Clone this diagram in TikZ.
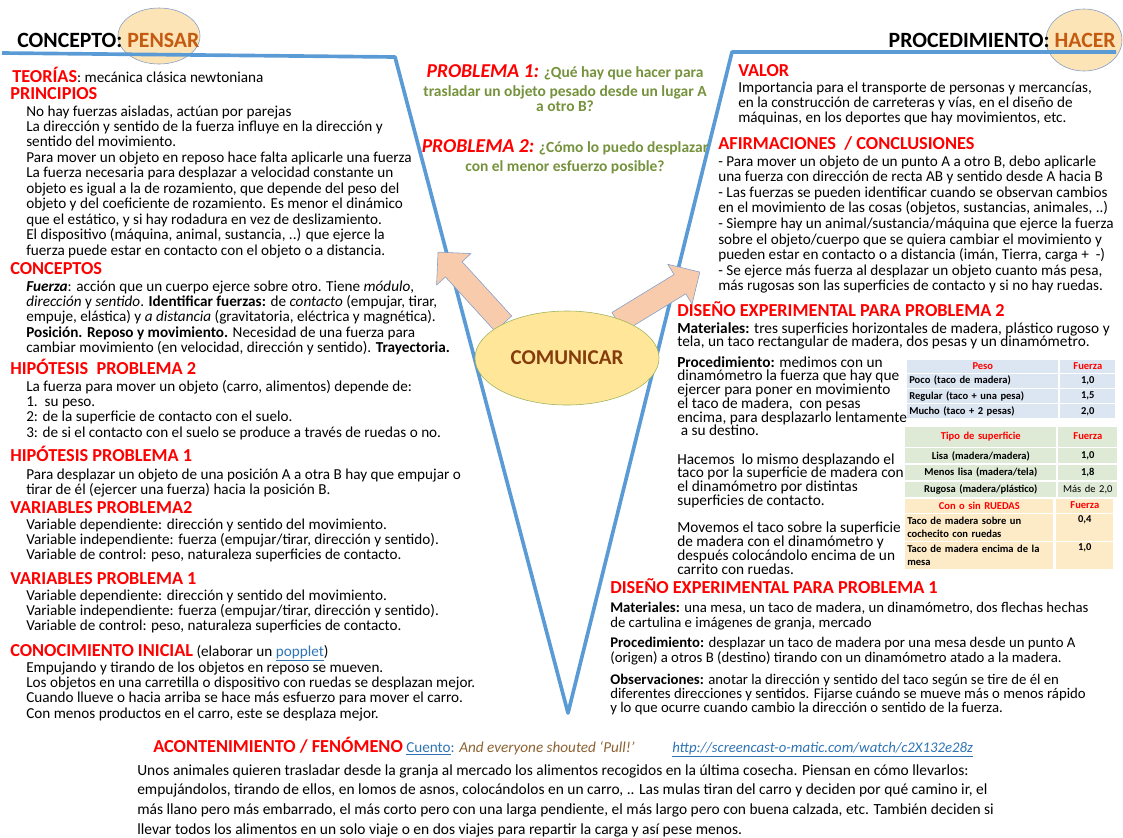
\documentclass[tikz,border=0pt]{standalone}
\usepackage{fontspec}
\setmainfont{Carlito}
\usetikzlibrary{shapes.geometric,shapes.arrows,calc}

\definecolor{vblue}{HTML}{5B9BD5}
\definecolor{hred}{HTML}{FF0000}
\definecolor{qgreen}{HTML}{76923C}
\definecolor{titlefill}{HTML}{FCE4B6}
\definecolor{titleorange}{HTML}{C55A11}
\definecolor{ovalline}{HTML}{7F9CC9}
\definecolor{comfill}{HTML}{FFE699}
\definecolor{comline}{HTML}{9BB15A}
\definecolor{comtext}{HTML}{843C0C}
\definecolor{arrowfill}{HTML}{F8CBAD}
\definecolor{linkblue}{HTML}{2E74B5}
\definecolor{storybrown}{HTML}{8D6232}
\definecolor{pesofill}{HTML}{DCE6F2}
\definecolor{tipofill}{HTML}{DFEAD6}
\definecolor{ruedafill}{HTML}{FDEBC8}

\begin{document}
\begin{tikzpicture}
  [x=0.025cm, y=-0.025cm,
   every node/.style={inner sep=0pt},
   title text/.style={font=\fontsize{15.5}{16}\selectfont\bfseries},
   title oval/.style={ellipse, draw=ovalline, fill=titlefill, thin},
   red head/.style={anchor=base west, text=hred, font=\fontsize{13}{14}\selectfont\bfseries},
   body text/.style={anchor=base west, align=left, font=\fontsize{10.8}{11}\selectfont,
     execute at begin node={\lineskiplimit=-20pt\relax}},
   problem line/.style={anchor=base, text=qgreen, font=\fontsize{11}{12}\selectfont\bfseries},
   block arrow/.style={single arrow, draw=ovalline, fill=arrowfill, thin,
     text height=0.275cm, text depth=0.275cm,
     single arrow head extend=0.3cm, single arrow head indent=0pt},
   table cell/.style={font=\fontsize{7.5}{9.3}\selectfont\bfseries, inner xsep=0.05cm,
     minimum height=0.35cm}]
  \useasboundingbox (0,0) rectangle (1123,837);

  % titles
  \node[title oval, minimum width=2.05cm, minimum height=1.4cm] (pensar oval) at (159,36) {};
  \node[title oval, minimum width=1.9cm, minimum height=1.55cm] (hacer oval) at (1084,40) {};
  \node[title text, anchor=base west] (concepto) at (17,47.5)
    {CONCEPTO: \textcolor{titleorange}{PENSAR}};
  \node[title text, anchor=base east] (procedimiento) at (1116,47.5)
    {PROCEDIMIENTO: \textcolor{titleorange}{HACER}};

  % the V
  \draw[vblue, line width=2.6pt, line join=round]
    (2,53) -- (395,57) -- (568,713) -- (732,52) -- (1116,52);

  % comunicar
  \coordinate (left tail) at (508,327);
  \coordinate (left tip) at (441,257);
  \coordinate (right tail) at (613,325);
  \coordinate (right tip) at (695,275);
  \node[block arrow, minimum height=2.42cm, rotate=132.4] (arrow left)
    at ($(left tail)!0.5!(left tip)$) {};
  \node[block arrow, minimum height=2.4cm, rotate=31.4] (arrow right)
    at ($(right tail)!0.5!(right tip)$) {};
  \node[ellipse, draw=comline, fill=comfill, thin, minimum width=4.6cm, minimum height=2.35cm,
        text=comtext, font=\fontsize{15}{16}\selectfont\bfseries] (comunicar) at (567,358) {COMUNICAR};

  % problems
  \node[problem line] (p1a) at (565,77)
    {\textcolor{hred}{\fontsize{14}{15}\selectfont\itshape PROBLEMA 1:} ¿Qué hay que hacer para};
  \node[problem line] (p1b) at (565,96) {trasladar un objeto pesado desde un lugar A};
  \node[problem line] (p1c) at (565,111) {a otro B?};
  \node[problem line] (p2a) at (565,152)
    {\textcolor{hred}{\fontsize{14}{15}\selectfont\itshape PROBLEMA 2:} ¿Cómo lo puedo desplazar};
  \node[problem line] (p2b) at (565,171) {con el menor esfuerzo posible?};

  % left side
  \node[body text] (teorias) at (12,82)
    {\textcolor{hred}{\fontsize{13}{14}\selectfont\bfseries TEORÍAS}: mecánica clásica newtoniana};
  \node[red head] (principios) at (10,99) {PRINCIPIOS};
  \node[body text, yshift=-99pt] (principios text) at (26,116)
    {No hay fuerzas aisladas, actúan por parejas\\
     La dirección y sentido de la fuerza influye en la dirección y\\
     sentido del movimiento.\\
     Para mover un objeto en reposo hace falta aplicarle una fuerza\\
     La fuerza necesaria para desplazar a velocidad constante un\\
     objeto es igual a la de rozamiento, que depende del peso del\\
     objeto y del coeficiente de rozamiento. Es menor el dinámico\\
     que el estático, y si hay rodadura en vez de deslizamiento.\\
     El dispositivo (máquina, animal, sustancia, ..) que ejerce la\\
     fuerza puede estar en contacto con el objeto o a distancia.};
  \node[red head] (conceptos) at (10,274) {CONCEPTOS};
  \node[body text, yshift=-44pt] (conceptos text) at (26,291)
    {\textbf{\textit{Fuerza}}: acción que un cuerpo ejerce sobre otro. Tiene \textit{módulo},\\
     \textit{dirección} y \textit{sentido}. \textbf{Identificar fuerzas:} de \textit{contacto} (empujar, tirar,\\
     empuje, elástica) y \textit{a distancia} (gravitatoria, eléctrica y magnética).\\
     \textbf{Posición. Reposo y movimiento.} Necesidad de una fuerza para\\
     cambiar movimiento (en velocidad, dirección y sentido). \textbf{Trayectoria.}};
  \node[red head] (hipotesis 2) at (10,374) {HIPÓTESIS\ \ PROBLEMA 2};
  \node[body text, yshift=-33pt] (hipotesis 2 text) at (26,391)
    {La fuerza para mover un objeto (carro, alimentos) depende de:\\
     1.\ \ su peso.\\
     2: de la superficie de contacto con el suelo.\\
     3: de si el contacto con el suelo se produce a través de ruedas o no.};
  \node[red head] (hipotesis 1) at (10,461) {HIPÓTESIS PROBLEMA 1};
  \node[body text, yshift=-11pt] (hipotesis 1 text) at (26,479)
    {Para desplazar un objeto de una posición A a otra B hay que empujar o\\
     tirar de él (ejercer una fuerza) hacia la posición B.};
  \node[red head] (variables 2) at (10,513) {VARIABLES PROBLEMA2};
  \node[body text, yshift=-22pt] (variables 2 text) at (26,529)
    {Variable dependiente: dirección y sentido del movimiento.\\
     Variable independiente: fuerza (empujar/tirar, dirección y sentido).\\
     Variable de control: peso, naturaleza superficies de contacto.};
  \node[red head] (variables 1) at (10,584) {VARIABLES PROBLEMA 1};
  \node[body text, yshift=-22pt] (variables 1 text) at (26,600)
    {Variable dependiente: dirección y sentido del movimiento.\\
     Variable independiente: fuerza (empujar/tirar, dirección y sentido).\\
     Variable de control: peso, naturaleza superficies de contacto.};
  \node[body text] (conocimiento) at (10,656)
    {\textcolor{hred}{\fontsize{13}{14}\selectfont\bfseries CONOCIMIENTO INICIAL} (elaborar un \textcolor{linkblue}{\underline{popplet}})};
  \node[body text, yshift=-33pt] (conocimiento text) at (26,672)
    {Empujando y tirando de los objetos en reposo se mueven.\\
     Los objetos en una carretilla o dispositivo con ruedas se desplazan mejor.\\
     Cuando llueve o hacia arriba se hace más esfuerzo para mover el carro.\\
     Con menos productos en el carro, este se desplaza mejor.};

  % right side
  \node[red head] (valor) at (738,76) {VALOR};
  \node[body text, font=\fontsize{10.8}{10.7}\selectfont, yshift=-21.4pt] (valor text) at (738,92)
    {Importancia para el transporte de personas y mercancías,\\
     en la construcción de carreteras y vías, en el diseño de\\
     máquinas, en los deportes que hay movimientos, etc.};
  \node[red head] (afirmaciones) at (718,149) {AFIRMACIONES\ \ / CONCLUSIONES};
  \node[body text, font=\fontsize{10.8}{11.1}\selectfont, yshift=-88.8pt] (afirmaciones text) at (718,166)
    {- Para mover un objeto de un punto A a otro B, debo aplicarle\\
     una fuerza con dirección de recta AB y sentido desde A hacia B\\
     - Las fuerzas se pueden identificar cuando se observan cambios\\
     en el movimiento de las cosas (objetos, sustancias, animales, ..)\\
     - Siempre hay un animal/sustancia/máquina que ejerce la fuerza\\
     sobre el objeto/cuerpo que se quiera cambiar el movimiento y\\
     pueden estar en contacto o a distancia (imán, Tierra, carga +\ \ -)\\
     - Se ejerce más fuerza al desplazar un objeto cuanto más pesa,\\
     más rugosas son las superficies de contacto y si no hay ruedas.};

  \node[red head] (diseno 2) at (677,316)
    {DISEÑO EXPERIMENTAL PARA PROBLEMA 2};
  \node[body text, font=\fontsize{10.9}{9.9}\selectfont, yshift=-9.9pt] (materiales 2) at (677,333)
    {\textbf{Materiales:} tres superficies horizontales de madera, plástico rugoso y\\
     tela, un taco rectangular de madera, dos pesas y un dinamómetro.};
  \node[body text, font=\fontsize{10.9}{9.8}\selectfont, yshift=-49pt] (procedimiento 2) at (677,367)
    {\textbf{Procedimiento:} medimos con un\\
     dinamómetro la fuerza que hay que\\
     ejercer para poner en movimiento\\
     el taco de madera,\ \ con pesas\\
     encima, para desplazarlo lentamente\\
     \ a su destino.};
  \node[body text, font=\fontsize{10.9}{9.8}\selectfont, yshift=-29.4pt] (hacemos) at (677,464)
    {Hacemos\ \ lo mismo desplazando el\\
     taco por la superficie de madera con\\
     el dinamómetro por distintas\\
     superficies de contacto.};
  \node[body text, font=\fontsize{10.9}{10}\selectfont, yshift=-30pt] (movemos) at (677,532)
    {Movemos el taco sobre la superficie\\
     de madera con el dinamómetro y\\
     después colocándolo encima de un\\
     carrito con ruedas.};

  % tables
  \matrix (peso table) [anchor=north west, row sep=0.025cm, column sep=0.05cm,
    nodes={table cell, fill=pesofill},
    column 1/.style={nodes={text width=3.675cm, align=left}},
    column 2/.style={nodes={text width=1.275cm, align=center}},
    row 1/.style={nodes={text=hred, align=center, minimum height=0.325cm}}] at (907,359)
  {
    \node (peso h1) {Peso}; & \node (peso h2) {Fuerza}; \\
    \node (peso a1) {Poco (taco de madera)}; & \node (peso a2) {1,0}; \\
    \node (peso b1) {Regular (taco + una pesa)}; & \node (peso b2) {1,5}; \\
    \node (peso c1) {Mucho (taco + 2 pesas)}; & \node (peso c2) {2,0}; \\
  };
  \matrix (tipo table) [anchor=north west, row sep=0.04cm, column sep=0.05cm,
    nodes={table cell, fill=tipofill, minimum height=0.375cm},
    column 1/.style={nodes={text width=3.675cm, align=center}},
    column 2/.style={nodes={text width=1.375cm, align=center}},
    row 1/.style={nodes={text=hred, minimum height=0.5cm}}] at (905,426)
  {
    \node (tipo h1) {Tipo de superficie}; & \node (tipo h2) {Fuerza}; \\
    \node (tipo a1) {Lisa (madera/madera)}; & \node (tipo a2) {1,0}; \\
    \node (tipo b1) {Menos lisa (madera/tela)}; & \node (tipo b2) {1,8}; \\
    \node (tipo c1) {Rugosa (madera/plástico)}; & \node[font=\fontsize{7.5}{9.3}\selectfont] (tipo c2) {Más de 2,0}; \\
  };
  \matrix (ruedas table) [anchor=north west, row sep=0.025cm, column sep=0.075cm,
    nodes={table cell, fill=ruedafill, minimum height=0.675cm},
    column 1/.style={nodes={text width=3.6cm, align=left}},
    column 2/.style={nodes={text width=1.325cm, align=center}},
    row 1/.style={nodes={text=hred, align=center, minimum height=0.35cm}}] at (905,498)
  {
    \node (ruedas h1) {Con o sin RUEDAS}; & \node (ruedas h2) {Fuerza}; \\
    \node (ruedas a1) {Taco de madera sobre un\\cochecito con ruedas}; & \node (ruedas a2) {0,4\\\strut}; \\
    \node (ruedas b1) {Taco de madera encima de la\\mesa}; & \node (ruedas b2) {1,0\\\strut}; \\
  };

  \node[red head] (diseno 1) at (610,593)
    {DISEÑO EXPERIMENTAL PARA PROBLEMA 1};
  \node[body text, font=\fontsize{10.5}{10.7}\selectfont, yshift=-10.7pt] (materiales 1) at (610,612)
    {\textbf{Materiales:} una mesa, un taco de madera, un dinamómetro, dos flechas hechas\\
     de cartulina e imágenes de granja, mercado};
  \node[body text, font=\fontsize{10.5}{10.7}\selectfont, yshift=-10.7pt] (procedimiento 1) at (610,647)
    {\textbf{Procedimiento:} desplazar un taco de madera por una mesa desde un punto A\\
     (origen) a otros B (destino) tirando con un dinamómetro atado a la madera.};
  \node[body text, font=\fontsize{10.5}{10}\selectfont, yshift=-20pt] (observaciones) at (610,684)
    {\textbf{Observaciones:} anotar la dirección y sentido del taco según se tire de él en\\
     diferentes direcciones y sentidos. Fijarse cuándo se mueve más o menos rápido\\
     y lo que ocurre cuando cambio la dirección o sentido de la fuerza.};

  % acontecimiento
  \node[body text] (acontecimiento) at (153,752)
    {\textcolor{hred}{\fontsize{13}{14}\selectfont\bfseries ACONTENIMIENTO / FENÓMENO}
     \textcolor{linkblue}{\underline{Cuento}:} \textcolor{storybrown}{\itshape And everyone shouted `Pull!'}};
  \node[body text, text=linkblue, font=\fontsize{10.5}{11}\selectfont\itshape] (cuento url) at (672,752)
    {\underline{http://screencast-o-matic.com/watch/c2X132e28z}};
  \node[body text, font=\fontsize{11}{14.2}\selectfont, yshift=-42.6pt] (cuento text) at (137,775)
    {Unos animales quieren trasladar desde la granja al mercado los alimentos recogidos en la última cosecha. Piensan en cómo llevarlos:\\
     empujándolos, tirando de ellos, en lomos de asnos, colocándolos en un carro, .. Las mulas tiran del carro y deciden por qué camino ir, el\\
     más llano pero más embarrado, el más corto pero con una larga pendiente, el más largo pero con buena calzada, etc. También deciden si\\
     llevar todos los alimentos en un solo viaje o en dos viajes para repartir la carga y así pese menos.};
\end{tikzpicture}
\end{document}
